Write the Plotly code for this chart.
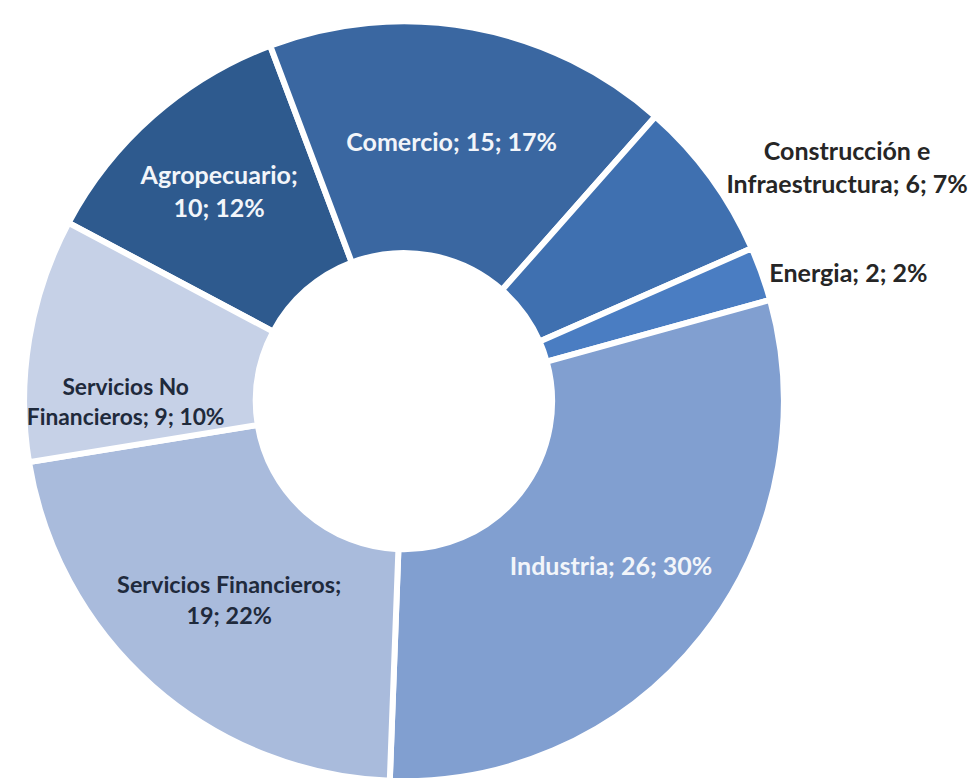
import plotly.graph_objects as go

categories = ["Agropecuario", "Comercio", "Construcción e Infraestructura", "Energia",
              "Industria", "Servicios Financieros", "Servicios No Financieros"]
display_labels = ["Agropecuario;<br>", "Comercio; ", "Construcción e<br>Infraestructura; ", "Energia; ",
                  "Industria; ", "Servicios Financieros;<br>", "Servicios No<br>Financieros; "]
values = [10, 15, 6, 2, 26, 19, 9]
percent_labels = [12, 17, 7, 2, 30, 22, 10]

colors = ["#2E5A8E", "#3A67A1", "#3F70B0", "#4A7DC2", "#819FD0", "#A9BBDC", "#C6D1E7"]
text_colors = ["#F2F5FA", "#F2F5FA", "#262626", "#262626", "#F2F5FA", "#1F2A3C", "#1F2A3C"]
positions = ["inside", "inside", "outside", "outside", "inside", "inside", "inside"]

texts = [f"{d}{v}; {p}%" for d, v, p in zip(display_labels, values, percent_labels)]

font = dict(family="Lato", size=25, color=text_colors, weight="bold")

fig = go.Figure(go.Pie(
    labels=categories,
    values=values,
    text=texts,
    texttemplate="%{text}",
    textposition=positions,
    insidetextorientation="horizontal",
    textfont=font,
    insidetextfont=font,
    outsidetextfont=font,
    marker=dict(colors=colors, line=dict(color="white", width=6)),
    hole=0.39,
    sort=False,
    direction="clockwise",
    rotation=-62,
    showlegend=False,
    domain=dict(x=[0.0163, 0.7926], y=[0.0102, 0.983]),
))

fig.update_layout(
    width=979, height=781,
    margin=dict(l=0, r=0, t=0, b=0),
    paper_bgcolor="white",
    plot_bgcolor="white",
    font=dict(family="Lato"),
)

fig.write_html("out.html")
